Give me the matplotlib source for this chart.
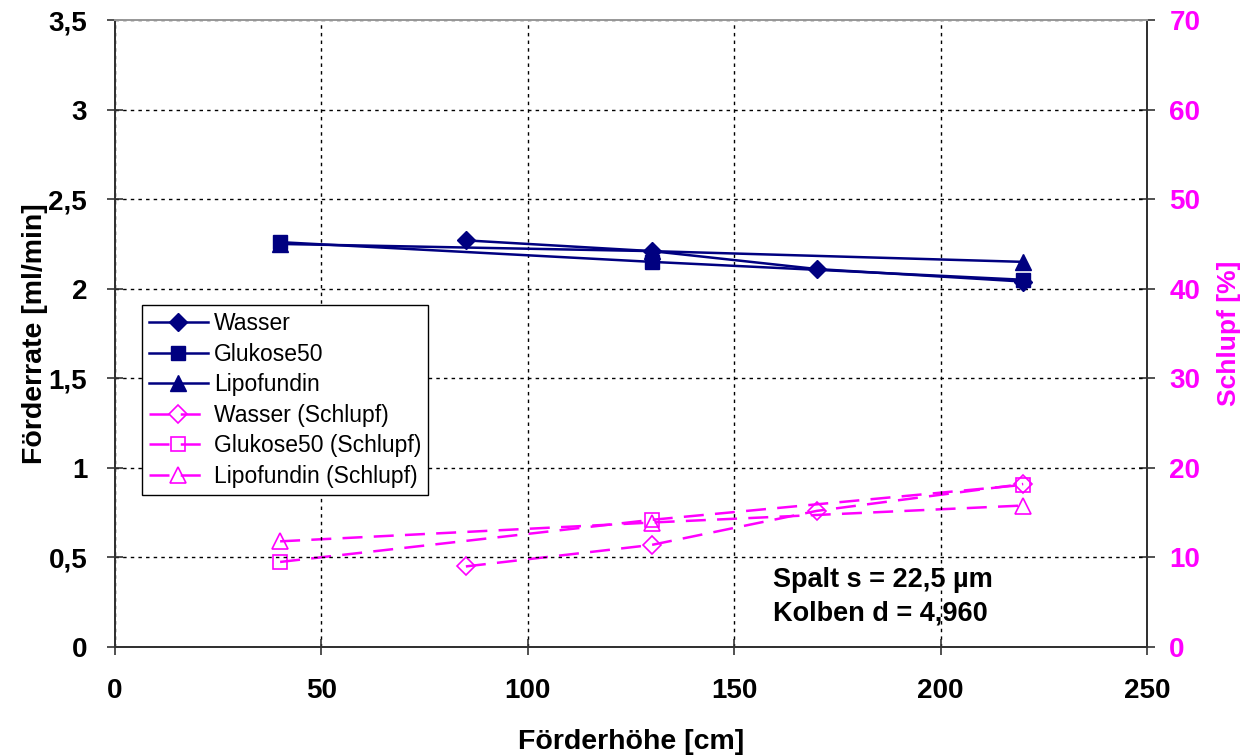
import matplotlib
matplotlib.use("Agg")
import matplotlib.pyplot as plt
from matplotlib.ticker import FuncFormatter, MultipleLocator

# Förderrate [ml/min] over Förderhöhe [cm]
wasser_h = [85, 130, 170, 220]
wasser_rate = [2.27, 2.21, 2.11, 2.04]
glukose_h = [40, 130, 220]
glukose_rate = [2.26, 2.15, 2.05]
lipo_h = [40, 130, 220]
lipo_rate = [2.25, 2.21, 2.15]

# Schlupf [%]
wasser_schlupf = [9.0, 11.4, 15.2, 18.2]
glukose_schlupf = [9.5, 14.2, 18.1]
lipo_schlupf = [11.8, 13.9, 15.8]

navy = "#000080"
magenta = "#FF00FF"
font = "Liberation Sans"

plt.rcParams["font.family"] = [font, "DejaVu Sans"]

fig = plt.figure(figsize=(12.58, 7.55), dpi=100)
ax = fig.add_axes([0.0914, 0.1430, 0.8204, 0.8305])
ax2 = ax.twinx()

lw = 1.8
h1, = ax.plot(wasser_h, wasser_rate, color=navy, lw=lw, marker="D", ms=9, label="Wasser")
h2, = ax.plot(glukose_h, glukose_rate, color=navy, lw=lw, marker="s", ms=10, label="Glukose50")
h3, = ax.plot(lipo_h, lipo_rate, color=navy, lw=lw, marker="^", ms=11, label="Lipofundin")

dash = (0, (8, 4.5))
h4, = ax2.plot(wasser_h, wasser_schlupf, color=magenta, lw=1.8, ls=dash, marker="D", ms=9,
               mfc="none", mec=magenta, mew=1.2, label="Wasser (Schlupf)")
h5, = ax2.plot(glukose_h, glukose_schlupf, color=magenta, lw=1.8, ls=dash, marker="s", ms=10,
               mfc="none", mec=magenta, mew=1.2, label="Glukose50 (Schlupf)")
h6, = ax2.plot(lipo_h, lipo_schlupf, color=magenta, lw=1.8, ls=dash, marker="^", ms=11,
               mfc="none", mec=magenta, mew=1.2, label="Lipofundin (Schlupf)")

ax.set_xlim(0, 250)
ax.set_ylim(0, 3.5)
ax2.set_ylim(0, 70)
ax.xaxis.set_major_locator(MultipleLocator(50))
ax.yaxis.set_major_locator(MultipleLocator(0.5))
ax2.yaxis.set_major_locator(MultipleLocator(10))

comma = FuncFormatter(lambda v, p: (f"{v:g}").replace(".", ","))
ax.yaxis.set_major_formatter(comma)

ax.grid(True, color="black", ls=(0, (2.5, 3)), lw=1.0)
ax.set_axisbelow(True)

for a in (ax, ax2):
    for s in a.spines.values():
        s.set_color("#333333")
        s.set_linewidth(1.4)
    a.spines["top"].set_color("#999999")
ax.tick_params(direction="inout", length=12, width=1.2, colors="#333333",
               labelcolor="black", labelsize=20, pad=14)
ax.tick_params(axis="x", pad=16)
ax2.tick_params(direction="inout", length=12, width=1.2, colors="#333333",
                labelcolor=magenta, labelsize=20, pad=10)
for lab in ax.get_xticklabels() + ax.get_yticklabels() + ax2.get_yticklabels():
    lab.set_fontweight("bold")

ax.set_xlabel("Förderhöhe [cm]", fontsize=20.5, fontweight="bold", labelpad=18)
ax.set_ylabel("Förderrate [ml/min]", fontsize=20.5, fontweight="bold", labelpad=0)
ax2.set_ylabel("Schlupf [%]", fontsize=19, fontweight="bold", color=magenta, labelpad=12)

leg = ax.legend(handles=[h1, h2, h3, h4, h5, h6], loc="upper left",
                bbox_to_anchor=(0.026, 0.545), fontsize=16.5, frameon=True,
                fancybox=False, edgecolor="black", framealpha=1,
                handlelength=2.6, handletextpad=0.25, labelspacing=0.33,
                borderpad=0.3, borderaxespad=0)
leg.get_frame().set_linewidth(1.0)
ax.set_zorder(ax2.get_zorder() + 1)
ax.patch.set_visible(False)

ax.text(0.638, 0.08, "Spalt s = 22,5 µm\nKolben d = 4,960", transform=ax.transAxes,
        fontsize=19.5, fontweight="bold", ha="left", va="center", linespacing=1.35)

fig.savefig("out.png", dpi=100)
